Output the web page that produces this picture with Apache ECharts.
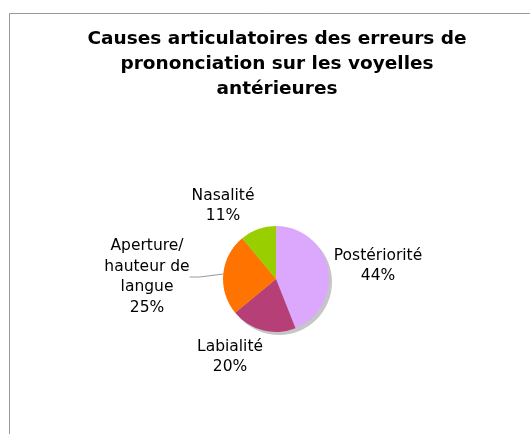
<!DOCTYPE html>
<html>
<head>
<meta charset="utf-8">
<script src="https://cdn.jsdelivr.net/npm/echarts@6/dist/echarts.min.js"></script>
<style>
html,body{margin:0;padding:0;background:#fff;}
#c{width:530px;height:434px;}
</style>
</head>
<body>
<div id="c"></div>
<script>
// Data
var categories = ['Postériorité', 'Labialité', 'Aperture/\nhauteur de\nlangue', 'Nasalité'];
var values = [44, 20, 25, 11];
var colors = ['#dca8fe', '#b63f78', '#ff7300', '#99cf00'];

// Label layout (style only)
var labelPos = [
  {x: 378, y: 266},
  {x: 230, y: 357},
  {x: 147, y: 277},
  {x: 223, y: 206}
];
var showLine = [false, false, true, false];

var chart = echarts.init(document.getElementById('c'));
var center = [276, 279];
var radius = 53;

var total = values.reduce(function(a, b){ return a + b; }, 0);

chart.setOption({
  animation: false,
  backgroundColor: '#fff',
  title: {
    text: 'Causes articulatoires des erreurs de\nprononciation sur les voyelles\nantérieures',
    left: 272,
    top: 22,
    textAlign: 'center',
    textStyle: {
      fontFamily: 'DejaVu Sans',
      fontWeight: 'bold',
      fontSize: 18.5,
      lineHeight: 25,
      color: '#000'
    }
  },
  graphic: [
    {type: 'line', shape: {x1: 9.5, y1: 13.5, x2: 530, y2: 13.5}, style: {stroke: '#9a9a9a', lineWidth: 1}},
    {type: 'line', shape: {x1: 9.5, y1: 13.5, x2: 9.5, y2: 434}, style: {stroke: '#9a9a9a', lineWidth: 1}}
  ],
  series: [
    {
      type: 'pie',
      silent: true,
      center: [center[0] + 3, center[1] + 3],
      radius: radius,
      label: {show: false},
      labelLine: {show: false},
      itemStyle: {color: '#c6c6c6'},
      data: [{value: total, name: 'shadow'}],
      z: 1
    },
    {
      type: 'pie',
      center: center,
      radius: radius,
      startAngle: 90,
      clockwise: true,
      z: 2,
      data: categories.map(function(c, i){
        return {
          name: c,
          value: values[i],
          itemStyle: {color: colors[i]},
          labelLine: {show: showLine[i]}
        };
      }),
      label: {
        show: true,
        position: 'outside',
        formatter: function(p){ return p.name + '\n' + p.value + '%'; },
        fontFamily: 'DejaVu Sans',
        fontSize: 15.5,
        lineHeight: 20.5,
        color: '#000',
        align: 'center'
      },
      labelLine: {
        length: 10,
        length2: 10,
        lineStyle: {color: '#999', width: 1}
      },
      labelLayout: function(params){
        var p = labelPos[params.dataIndex];
        return {x: p.x, y: p.y, align: 'center', verticalAlign: 'middle'};
      }
    }
  ]
});
</script>
</body>
</html>
